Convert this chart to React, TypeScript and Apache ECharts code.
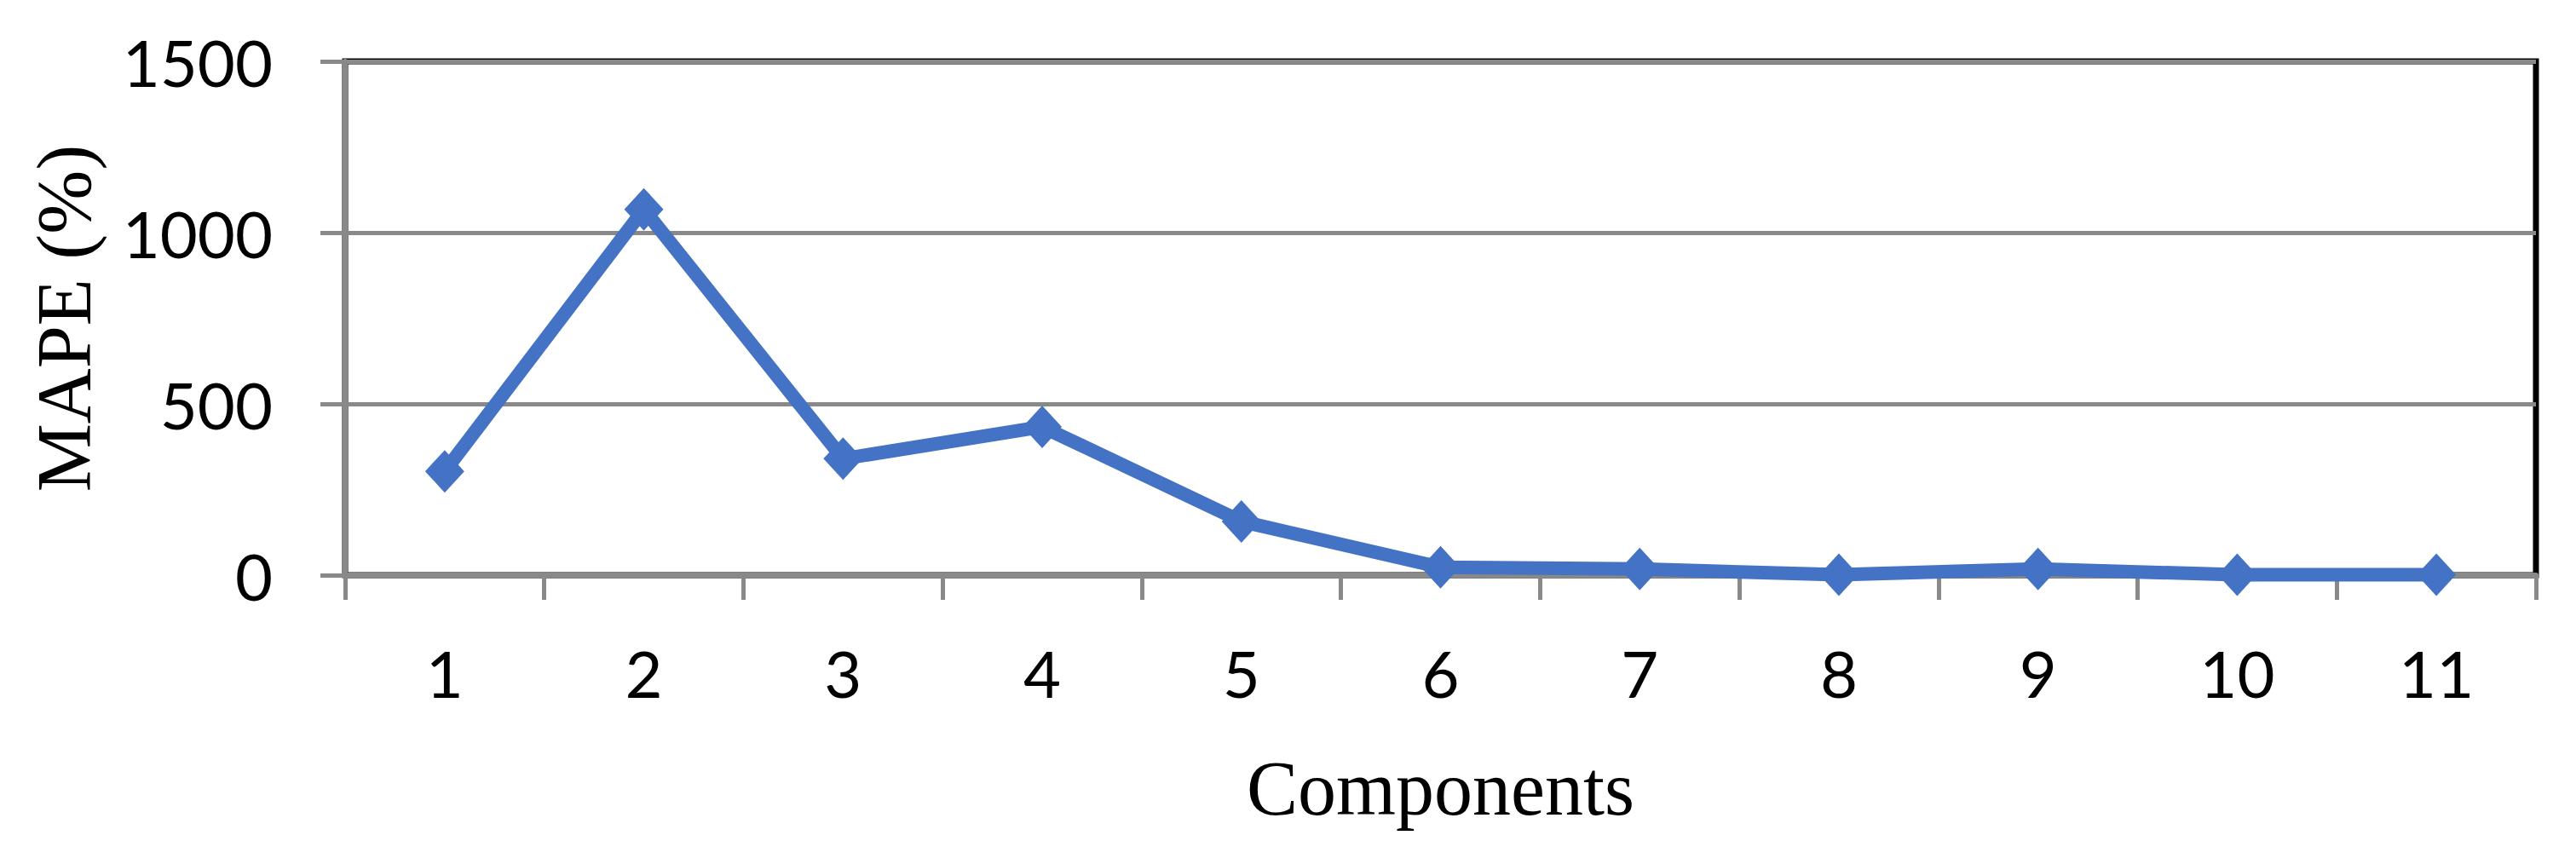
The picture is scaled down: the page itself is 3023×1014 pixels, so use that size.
import React, { useEffect, useRef } from "react";
import * as echarts from "echarts";

const categories = ["1", "2", "3", "4", "5", "6", "7", "8", "9", "10", "11"];
const mapeValues = [303, 1068, 340, 433, 157, 23, 18, 1, 18, 1, 1];
const yTicks = { min: 0, max: 1500, interval: 500 };
const xTitle = "Components";
const yTitle = "MAPE (%)";

export default function App() {
  const ref = useRef<HTMLDivElement>(null);
  useEffect(() => {
    if (!ref.current) return;
    const chart = echarts.init(ref.current, null, { renderer: "svg" });
    const gray = "#898989";
    chart.setOption({
      animation: false,
      backgroundColor: "#ffffff",
      grid: {
        left: 405,
        right: 47,
        top: 72,
        bottom: 339,
        show: true,
        borderColor: "#000000",
        borderWidth: 7,
        backgroundColor: "transparent",
        z: 0,
        outerBoundsMode: "none",
      },
      xAxis: {
        type: "category",
        data: categories,
        boundaryGap: true,
        z: 1,
        name: xTitle,
        nameLocation: "middle",
        nameGap: 205,
        nameTextStyle: {
          fontFamily: "Liberation Serif",
          fontSize: 90,
          color: "#000000",
        },
        axisLine: { show: true, lineStyle: { color: gray, width: 6 } },
        axisTick: {
          show: true,
          length: 29,
          alignWithLabel: false,
          lineStyle: { color: gray, width: 5 },
        },
        axisLabel: {
          fontFamily: "Lato",
          fontSize: 76,
          color: "#000000",
          margin: 76,
        },
        splitLine: { show: false },
      },
      yAxis: {
        type: "value",
        min: yTicks.min,
        max: yTicks.max,
        interval: yTicks.interval,
        z: 1,
        name: yTitle,
        nameLocation: "middle",
        nameGap: 285,
        nameRotate: 90,
        nameTextStyle: {
          fontFamily: "Liberation Serif",
          fontSize: 90,
          color: "#000000",
        },
        axisLine: { show: true, lineStyle: { color: gray, width: 6 } },
        axisTick: {
          show: true,
          length: 29,
          lineStyle: { color: gray, width: 5 },
        },
        axisLabel: {
          fontFamily: "Lato",
          fontSize: 76,
          color: "#000000",
          margin: 85,
          formatter: (v: number) => String(v),
        },
        splitLine: { show: true, lineStyle: { color: gray, width: 5 } },
      },
      series: [
        {
          type: "line",
          data: mapeValues,
          z: 5,
          symbol: "diamond",
          symbolSize: [46, 50],
          showAllSymbol: true,
          clip: false,
          lineStyle: { color: "#4472C4", width: 16 },
          itemStyle: { color: "#4472C4" },
        },
      ],
    });
    return () => chart.dispose();
  }, []);
  return (
    <div
      ref={ref}
      style={{ position: "fixed", left: 0, top: 0, width: 3023, height: 1014 }}
    />
  );
}
